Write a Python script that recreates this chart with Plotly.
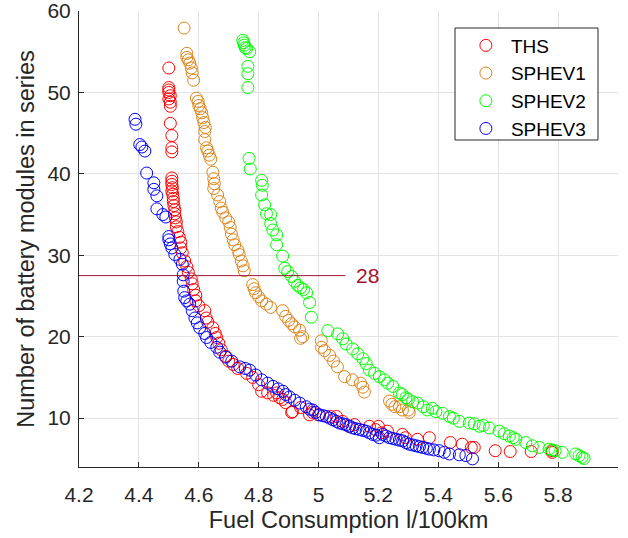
import plotly.graph_objects as go

# ---------------- data ----------------
ths_x = [4.50, 4.50, 4.50, 4.50, 4.505, 4.50, 4.505, 4.505, 4.505, 4.51, 4.51, 4.51,
         4.51, 4.51, 4.51, 4.512, 4.51, 4.513, 4.515, 4.515, 4.517, 4.52, 4.52, 4.522,
         4.525, 4.525, 4.53, 4.535, 4.54, 4.54, 4.545, 4.553, 4.56, 4.565, 4.575, 4.578,
         4.583, 4.59, 4.59, 4.60, 4.62, 4.625, 4.63, 4.647, 4.655, 4.66, 4.667, 4.675,
         4.69, 4.70, 4.715, 4.73, 4.76, 4.78, 4.80, 4.81, 4.83, 4.85, 4.86, 4.87, 4.88,
         4.89, 4.91, 4.913, 4.94, 4.97, 4.98, 5.00, 5.04, 5.06, 5.08, 5.10, 5.12, 5.17,
         5.19, 5.20, 5.21, 5.23, 5.28, 5.29, 5.33, 5.37, 5.44, 5.48, 5.51, 5.52, 5.59,
         5.64, 5.71, 5.78, 5.78]
ths_y = [53.0, 50.6, 50.3, 50.0, 49.6, 49.2, 48.8, 48.3, 46.2, 44.7, 43.2, 42.7,
         39.5, 39.1, 38.7, 38.3, 37.9, 37.5, 37.0, 36.6, 36.1, 35.6, 35.1, 34.6,
         34.1, 33.5, 32.9, 32.2, 31.6, 30.9, 30.3, 29.3, 28.6, 27.9, 27.1, 26.5,
         25.8, 25.1, 24.4, 23.8, 23.2, 22.3, 21.8, 21.1, 20.4, 19.9, 19.2, 18.4,
         17.6, 17.0, 16.6, 16.1, 15.5, 15.0, 14.1, 13.3, 13.1, 12.8, 13.1, 12.5, 12.3,
         11.9, 10.7, 10.8, 11.3, 10.4, 10.7, 10.4, 10.2, 10.2, 9.6, 9.0, 9.2, 9.0,
         8.6, 9.0, 8.2, 8.4, 8.0, 7.6, 7.4, 7.6, 7.0, 6.8, 6.4, 6.4, 6.0,
         5.9, 5.9, 5.8, 6.0]

sphev1_x = [4.551, 4.56, 4.56, 4.565, 4.57, 4.575, 4.578, 4.583, 4.592, 4.598, 4.60, 4.605,
            4.61, 4.613, 4.617, 4.622, 4.62, 4.62, 4.626, 4.63, 4.635, 4.64, 4.647, 4.65,
            4.652, 4.65, 4.663, 4.67, 4.675, 4.68, 4.69, 4.70, 4.705, 4.709, 4.715, 4.72,
            4.731, 4.735, 4.742, 4.748, 4.752,
            4.78, 4.785, 4.79, 4.80, 4.81, 4.826, 4.84, 4.88, 4.89, 4.90, 4.91, 4.92,
            4.937, 4.947, 4.94,
            5.009, 5.01, 5.02, 5.037, 5.05, 5.063, 5.087, 5.113, 5.14, 5.148, 5.153,
            5.237, 5.245, 5.255, 5.27, 5.28, 5.30, 5.303]
sphev1_y = [57.9, 54.8, 54.3, 54.0, 53.6, 53.0, 52.4, 51.5, 49.3, 48.9, 48.4, 48.0,
            47.5, 46.9, 46.3, 45.7, 45.2, 44.2, 43.2, 42.8, 42.3, 41.8, 40.2, 39.4,
            38.8, 38.2, 37.4, 36.6, 35.8, 35.3, 34.6, 34.1, 33.4, 32.6, 31.9, 31.3,
            30.6, 30.1, 29.3, 28.7, 28.1,
            26.4, 25.9, 25.4, 24.9, 24.4, 24.0, 23.6, 23.2, 22.5, 22.0, 21.6, 21.2,
            20.8, 20.0, 19.8,
            19.5, 18.7, 18.3, 17.7, 17.0, 16.3, 15.1, 14.7, 14.3, 13.8, 13.2,
            12.1, 11.7, 11.4, 11.4, 11.0, 11.0, 10.7]

sphev2_x = [4.747, 4.75, 4.752, 4.755, 4.76, 4.77, 4.764, 4.764, 4.764,
            4.768, 4.772, 4.81, 4.812, 4.81, 4.82, 4.826, 4.84, 4.84, 4.847, 4.86, 4.86,
            4.88, 4.887, 4.897, 4.91, 4.92, 4.93, 4.94, 4.95, 4.96, 4.97, 4.976,
            5.031, 5.064, 5.081, 5.092, 5.114, 5.131, 5.148, 5.159, 5.17, 5.187, 5.203,
            5.22, 5.231, 5.248, 5.27, 5.28, 5.292, 5.30, 5.314, 5.331, 5.35, 5.364, 5.38,
            5.392, 5.414, 5.437, 5.45, 5.47, 5.503, 5.52, 5.537, 5.55, 5.57, 5.603, 5.62,
            5.637, 5.65, 5.659, 5.692, 5.714, 5.737, 5.77, 5.78, 5.79, 5.814, 5.859,
            5.87, 5.88, 5.887]
sphev2_y = [56.4, 56.1, 55.8, 55.5, 55.4, 55.0, 53.2, 52.3, 50.6,
            41.9, 40.6, 39.2, 38.6, 37.4, 36.2, 35.1, 35.0, 33.9, 33.1, 32.5, 31.3,
            29.9, 28.4, 28.0, 27.4, 26.8, 26.3, 26.0, 25.8, 25.4, 24.2, 22.4,
            20.75, 20.35, 19.75, 19.1, 18.5, 17.9, 17.3, 16.7, 15.9, 15.5, 15.1,
            14.7, 14.3, 13.9, 13.1, 12.9, 12.5, 12.3, 12.0, 11.85, 11.4, 11.0, 11.2,
            10.8, 10.6, 10.2, 10.0, 9.6, 9.4, 9.3, 9.0, 9.1, 8.8, 8.4, 8.1,
            7.8, 7.6, 7.4, 7.0, 6.6, 6.4, 6.2, 6.1, 6.0, 5.8, 5.6,
            5.4, 5.2, 5.05]

sphev3_x = [4.387, 4.39, 4.403, 4.41, 4.42, 4.426, 4.45, 4.45, 4.46, 4.46, 4.48, 4.49,
            4.50, 4.50, 4.505, 4.51, 4.52, 4.537, 4.545, 4.548, 4.548, 4.55, 4.553, 4.56,
            4.57, 4.578, 4.587, 4.595, 4.603, 4.62, 4.626, 4.64, 4.66, 4.67, 4.69, 4.71,
            4.737, 4.755, 4.77, 4.79, 4.81, 4.83, 4.848, 4.865, 4.881, 4.89, 4.903, 4.92,
            4.937, 4.959, 4.97, 4.981, 4.99, 5.003, 5.015, 5.026, 5.037, 5.048, 5.06,
            5.07, 5.081, 5.092, 5.104, 5.114, 5.125, 5.137, 5.148, 5.159, 5.17, 5.181,
            5.192, 5.203, 5.214, 5.226, 5.237, 5.248, 5.259, 5.27, 5.281, 5.292, 5.303,
            5.315, 5.326, 5.337, 5.348, 5.36, 5.37, 5.385, 5.403, 5.42, 5.437, 5.47,
            5.492, 5.514]
sphev3_y = [46.7, 46.1, 43.6, 43.3, 42.8, 40.1, 38.9, 38.1, 37.3, 35.7, 35.0, 34.7,
            32.3, 31.9, 31.4, 30.9, 30.1, 29.5, 28.9, 27.6, 26.8, 25.6, 24.8, 24.4,
            24.0, 23.2, 22.3, 21.7, 21.1, 20.4, 19.9, 19.3, 18.7, 18.1, 17.5, 17.0,
            16.3, 16.1, 15.9, 15.3, 14.7, 14.3, 13.9, 13.6, 13.3, 12.9, 12.6, 12.2,
            11.85, 11.4, 11.1, 11.0, 10.7, 10.4, 10.3, 10.2, 10.0, 9.8, 9.6,
            9.4, 9.3, 9.2, 9.0, 8.8, 8.7, 8.6, 8.5, 8.4, 8.2, 8.0,
            7.9, 7.6, 8.0, 7.8, 7.6, 7.5, 7.4, 7.3, 7.2, 7.0, 6.8,
            6.7, 6.6, 6.5, 6.4, 6.3, 6.2, 6.1, 6.0, 5.8, 5.6, 5.5,
            5.4, 5.0]

series_names = ["THS", "SPHEV1", "SPHEV2", "SPHEV3"]
series_colors = ["#FF0000", "#DE8419", "#00FF00", "#0000FF"]

threshold_value = 27.5
threshold_x = [4.2, 5.09]
threshold_label = "28"
threshold_label_x = 5.12

x_ticks = [4.2, 4.4, 4.6, 4.8, 5.0, 5.2, 5.4, 5.6, 5.8]
x_tick_text = ["4.2", "4.4", "4.6", "4.8", "5", "5.2", "5.4", "5.6", "5.8"]
y_ticks = [10, 20, 30, 40, 50, 60]

# ---------------- figure ----------------
FONT = "Liberation Sans, Arial, Helvetica, sans-serif"
AX = "#262626"
fig = go.Figure()

data = [(ths_x, ths_y), (sphev1_x, sphev1_y), (sphev2_x, sphev2_y), (sphev3_x, sphev3_y)]
for (xs, ys), name, col in zip(data, series_names, series_colors):
    fig.add_trace(go.Scatter(
        x=xs, y=ys, mode="markers", name=name, legendgroup=name,
        marker=dict(symbol="circle-open", size=12, color=col, line=dict(width=1, color=col)),
    ))

fig.add_trace(go.Scatter(
    x=threshold_x, y=[threshold_value, threshold_value], mode="lines",
    line=dict(color="#A2142F", width=1), showlegend=False, hoverinfo="skip",
))

fig.add_annotation(
    x=threshold_label_x, y=threshold_value, text=threshold_label, showarrow=False,
    xanchor="left", yanchor="middle",
    font=dict(family=FONT, size=21, color="#A2142F"),
)

# legend frame (plot area: top 11px, bottom 467px, height 456px)
fig.add_shape(type="rect", xref="paper", yref="paper",
              x0=0.6976, x1=0.9629, y0=0.7171, y1=0.9627,
              line=dict(color=AX, width=1), fillcolor="white", layer="above")

fig.update_layout(
    width=628, height=538,
    margin=dict(l=79, r=10, t=11, b=71, autoexpand=False),
    paper_bgcolor="white", plot_bgcolor="white",
    font=dict(family=FONT, color=AX),
    showlegend=True,
    legend=dict(
        x=0.7085, y=0.966, xanchor="left", yanchor="top",
        bgcolor="rgba(0,0,0,0)", borderwidth=0,
        font=dict(family=FONT, size=19, color="#000000"),
        tracegroupgap=0, itemwidth=40,
    ),
)

fig.update_xaxes(
    range=[4.2, 6.0], tickvals=x_ticks, ticktext=x_tick_text, automargin=False,
    showgrid=True, gridcolor="#E3E3E3", gridwidth=1,
    showline=True, linecolor=AX, linewidth=1, mirror=False,
    ticks="inside", ticklen=5, tickcolor=AX, ticklabelstandoff=9,
    ticklabeloverflow="allow",
    tickfont=dict(family=FONT, size=21, color=AX), zeroline=False,
    title=dict(text="Fuel Consumption l/100km", font=dict(family=FONT, size=23.5, color=AX), standoff=6),
)
fig.update_yaxes(
    range=[4.0, 60.0], tickvals=y_ticks, automargin=False,
    showgrid=True, gridcolor="#E3E3E3", gridwidth=1,
    showline=True, linecolor=AX, linewidth=1, mirror=False,
    ticks="inside", ticklen=5, tickcolor=AX, ticklabelstandoff=3,
    ticklabeloverflow="allow",
    tickfont=dict(family=FONT, size=21, color=AX), zeroline=False,
    title=dict(text="Number of battery modules in series", font=dict(family=FONT, size=23.5, color=AX), standoff=6),
)

fig.write_html("out.html", post_script="document.body.style.margin='0';",
               config={"displayModeBar": False})
